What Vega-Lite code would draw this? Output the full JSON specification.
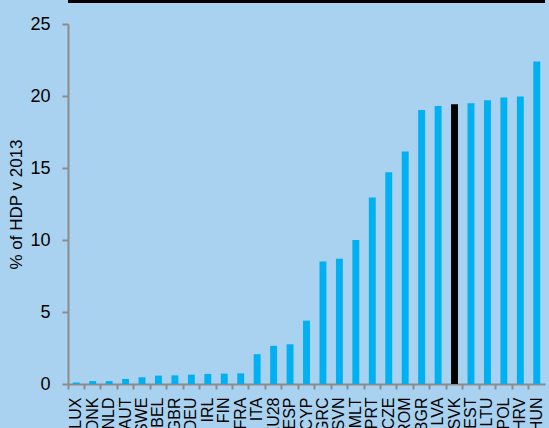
{
  "$schema": "https://vega.github.io/schema/vega-lite/v6.json",
  "width": 477,
  "height": 360,
  "autosize": {"type": "none"},
  "padding": {"left": 68, "top": 24, "right": 4, "bottom": 44},
  "background": "#A9D2F0",
  "config": {"view": {"stroke": null}, "font": "Liberation Sans"},
  "data": {"values": [
    {"country": "LUX", "value": 0.1, "hl": "no"},
    {"country": "DNK", "value": 0.2, "hl": "no"},
    {"country": "NLD", "value": 0.2, "hl": "no"},
    {"country": "AUT", "value": 0.35, "hl": "no"},
    {"country": "SWE", "value": 0.47, "hl": "no"},
    {"country": "BEL", "value": 0.58, "hl": "no"},
    {"country": "GBR", "value": 0.6, "hl": "no"},
    {"country": "DEU", "value": 0.65, "hl": "no"},
    {"country": "IRL", "value": 0.7, "hl": "no"},
    {"country": "FIN", "value": 0.72, "hl": "no"},
    {"country": "FRA", "value": 0.74, "hl": "no"},
    {"country": "ITA", "value": 2.07, "hl": "no"},
    {"country": "EU28", "value": 2.65, "hl": "no"},
    {"country": "ESP", "value": 2.76, "hl": "no"},
    {"country": "CYP", "value": 4.4, "hl": "no"},
    {"country": "GRC", "value": 8.5, "hl": "no"},
    {"country": "SVN", "value": 8.7, "hl": "no"},
    {"country": "MLT", "value": 10.0, "hl": "no"},
    {"country": "PRT", "value": 12.95, "hl": "no"},
    {"country": "CZE", "value": 14.7, "hl": "no"},
    {"country": "ROM", "value": 16.15, "hl": "no"},
    {"country": "BGR", "value": 19.03, "hl": "no"},
    {"country": "LVA", "value": 19.31, "hl": "no"},
    {"country": "SVK", "value": 19.43, "hl": "yes"},
    {"country": "EST", "value": 19.5, "hl": "no"},
    {"country": "LTU", "value": 19.7, "hl": "no"},
    {"country": "POL", "value": 19.9, "hl": "no"},
    {"country": "HRV", "value": 19.97, "hl": "no"},
    {"country": "HUN", "value": 22.4, "hl": "no"}
  ]},
  "layer": [
    {
      "mark": {"type": "bar", "width": {"band": 0.42}},
      "encoding": {
        "x": {
          "field": "country", "type": "nominal", "sort": null,
          "scale": {"paddingInner": 0, "paddingOuter": 0},
          "axis": {
            "title": null, "labelAngle": -90, "labelAlign": "right", "labelBaseline": "middle",
            "labelFontSize": 16, "labelColor": "#000000", "labelPadding": 8,
            "tickSize": 5, "tickWidth": 2, "tickColor": "#8C8C8C", "bandPosition": 0,
            "domainColor": "#8C8C8C", "domainWidth": 2, "labelOverlap": false
          }
        },
        "y": {
          "field": "value", "type": "quantitative",
          "scale": {"domain": [0, 25], "nice": false},
          "axis": {
            "title": "% of HDP v 2013", "titleFontSize": 17, "titleFontWeight": "normal", "titleColor": "#000000",
            "values": [0, 5, 10, 15, 20, 25], "grid": false,
            "labelFontSize": 18, "labelColor": "#000000", "labelPadding": 12,
            "tickSize": 6, "tickWidth": 2, "tickColor": "#8C8C8C",
            "domainColor": "#8C8C8C", "domainWidth": 2, "titlePadding": 4
          }
        },
        "color": {
          "field": "hl", "type": "nominal",
          "scale": {"domain": ["no", "yes"], "range": ["#00B0F0", "#000000"]},
          "legend": null
        }
      }
    },
    {
      "mark": {"type": "rule", "clip": false, "strokeWidth": 3, "color": "#000000"},
      "encoding": {"y": {"datum": 26.6}}
    }
  ]
}
